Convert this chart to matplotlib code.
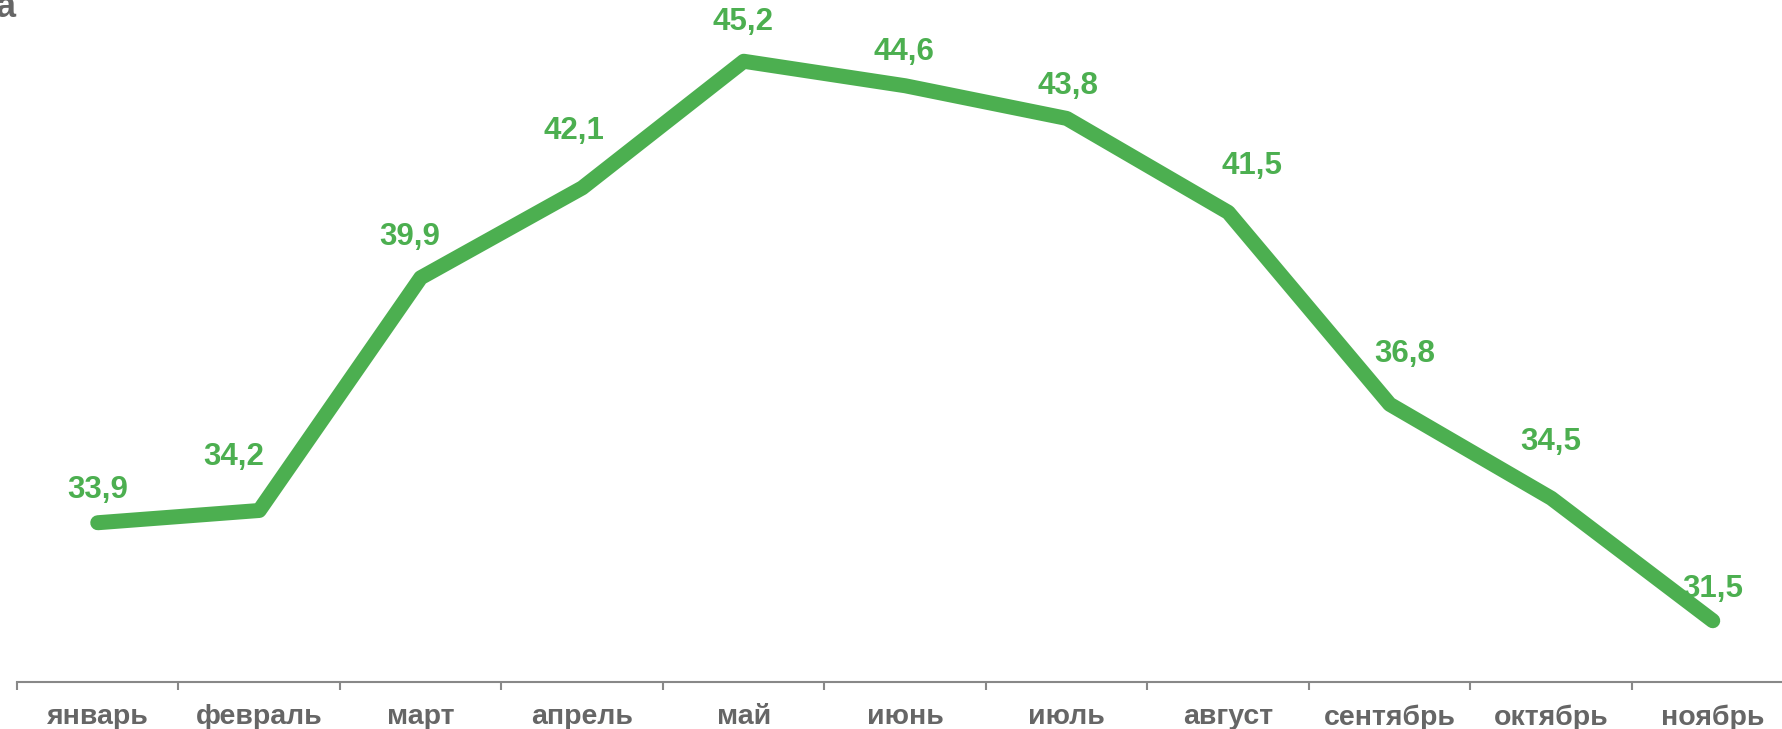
import numpy as np
import matplotlib
matplotlib.use("Agg")
import matplotlib.pyplot as plt
from matplotlib.ticker import FixedLocator, NullFormatter

months = ['январь', 'февраль', 'март', 'апрель', 'май', 'июнь', 'июль',
          'август', 'сентябрь', 'октябрь', 'ноябрь']
values = [33.9, 34.2, 39.9, 42.1, 45.2, 44.6, 43.8, 41.5, 36.8, 34.5, 31.5]

# label nudges (pixels) so values sit clear of the line
lab_dx = [0, -26, -11, -8, -1, -1, 1, 24, 15, 0, 0]
lab_dy = [33, 53, 41, 57, 39, 34, 32, 46, 50, 56, 32]

plt.rcParams['font.family'] = ['Liberation Sans', 'DejaVu Sans']
green = '#4caf50'
grey = '#666666'

fig = plt.figure(figsize=(17.83, 7.29), dpi=100, facecolor='white')
W, H = 1783, 729
cat_w = 161.5
ax = fig.add_axes([17 / W, (H - 682) / H, 11 * cat_w / W, 682 / H])

x = np.arange(len(months))
ax.plot(x, values, color=green, lw=10.8, solid_capstyle='round', solid_joinstyle='round')
for xi, v, dx, dy in zip(x, values, lab_dx, lab_dy):
    ax.annotate(f"{v:.1f}".replace('.', ','), (xi, v), xytext=(dx, dy), textcoords='offset pixels',
                ha='center', va='center', color=green, fontsize=22.5, fontweight='bold')

ax.set_xlim(-0.5, len(months) - 0.5)
ax.set_ylim(30, 46.7)
ax.set_xticks(x)
ax.set_xticklabels(months, fontsize=20.5, fontweight='bold', color=grey)
ax.tick_params(axis='x', which='major', length=0, pad=16)
ax.xaxis.set_minor_locator(FixedLocator(np.arange(-0.5, len(months) + 0.5, 1)))
ax.xaxis.set_minor_formatter(NullFormatter())
ax.tick_params(axis='x', which='minor', length=6, width=1.5, color='#888888')
ax.set_yticks([])
for s in ['top', 'right', 'left']:
    ax.spines[s].set_visible(False)
ax.spines['bottom'].set_color('#888888')
ax.spines['bottom'].set_linewidth(1.5)

fig.text(-0.002, 1 - 17 / H, 'а', fontsize=26, fontweight='bold', color=grey, ha='left', va='baseline')

fig.savefig("out.png", dpi=100, facecolor='white')
